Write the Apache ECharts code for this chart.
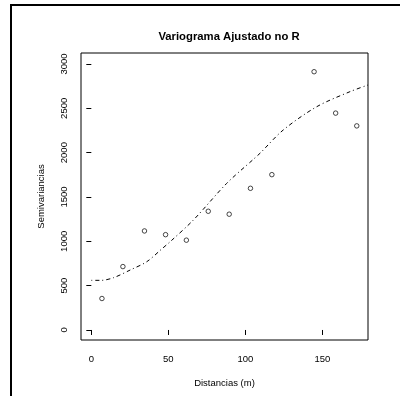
<!DOCTYPE html>
<html>
<head>
<meta charset="utf-8">
<script src="https://cdn.jsdelivr.net/npm/echarts@6/dist/echarts.min.js"></script>
<style>
  html, body { margin: 0; padding: 0; background: #fff; }
  #chart { width: 400px; height: 396px; }
</style>
</head>
<body>
<div id="chart"></div>
<script>
// Empirical semivariogram: lag distance (m) and semivariance
const distancias = [6.9, 20.5, 34.5, 48.2, 61.7, 75.9, 89.5, 103.3, 117.2, 144.6, 158.6, 172.3];
const semivariancias = [355, 715, 1117, 1075, 1013, 1339, 1306, 1598, 1752, 2913, 2446, 2302];

// Fitted model curve, sampled along distance
const modeloDist = [0, 6.5, 14.5, 25.3, 36, 45.8, 51.2, 66.3, 87.9, 105.2, 109.5, 124.6, 146.3, 167.9, 179.6];
const modeloGama = [560, 560, 590, 677, 770, 915, 996, 1241, 1654, 1925, 1993, 2256, 2518, 2688, 2763];

// Axis tick labels
const xTicks = [0, 50, 100, 150];
const yTicks = [0, 500, 1000, 1500, 2000, 2500, 3000];

const txt = '#000';
const fontFamily = '"Liberation Sans", Arial, Helvetica, sans-serif';
const plain = v => String(v);

const chart = echarts.init(document.getElementById('chart'), null, { renderer: 'canvas' });

chart.setOption({
  animation: false,
  backgroundColor: '#fff',
  title: {
    text: 'Variograma Ajustado no R',
    left: 224,
    top: 26,
    textAlign: 'center',
    textStyle: { fontFamily, fontSize: 11.3, fontWeight: 'bold', color: txt }
  },
  graphic: [
    { type: 'line', shape: { x1: 10, y1: 5, x2: 400, y2: 5 }, style: { stroke: '#000', lineWidth: 2 } },
    { type: 'line', shape: { x1: 11, y1: 4, x2: 11, y2: 396 }, style: { stroke: '#000', lineWidth: 2 } }
  ],
  grid: {
    left: 81, top: 53, right: 32, bottom: 56,
    show: true, borderColor: '#000', borderWidth: 1, backgroundColor: 'transparent'
  },
  xAxis: {
    type: 'value',
    min: -6.7, max: 179.6,
    name: 'Distancias (m)',
    nameLocation: 'middle',
    nameGap: 38,
    nameTextStyle: { fontFamily, fontSize: 9.5, color: txt },
    splitLine: { show: false },
    axisLine: { show: false },
    axisTick: { show: true, inside: false, length: 5, customValues: xTicks, lineStyle: { color: '#000' } },
    axisLabel: { customValues: xTicks, formatter: plain, margin: 14, fontFamily, fontSize: 9.5, color: txt }
  },
  yAxis: {
    type: 'value',
    min: -113, max: 3124,
    name: 'Semivariancias',
    nameLocation: 'middle',
    nameGap: 35,
    nameRotate: 90,
    nameTextStyle: { fontFamily, fontSize: 9.5, color: txt },
    splitLine: { show: false },
    axisLine: { show: false },
    axisTick: { show: true, inside: false, length: 5, customValues: yTicks, lineStyle: { color: '#000' } },
    axisLabel: { customValues: yTicks, formatter: plain, rotate: 90, margin: 12, fontFamily, fontSize: 9.5, color: txt }
  },
  series: [
    {
      type: 'scatter',
      data: distancias.map((d, i) => [d, semivariancias[i]]),
      symbol: 'circle',
      symbolSize: 4.5,
      itemStyle: { color: '#fff', borderColor: '#000', borderWidth: 0.9 },
      z: 3
    },
    {
      type: 'line',
      data: modeloDist.map((d, i) => [d, modeloGama[i]]),
      showSymbol: false,
      symbol: 'none',
      smooth: 0.3,
      clip: true,
      lineStyle: { color: '#000', width: 1, type: [1, 3, 4, 3] },
      z: 2
    }
  ]
});
</script>
</body>
</html>
